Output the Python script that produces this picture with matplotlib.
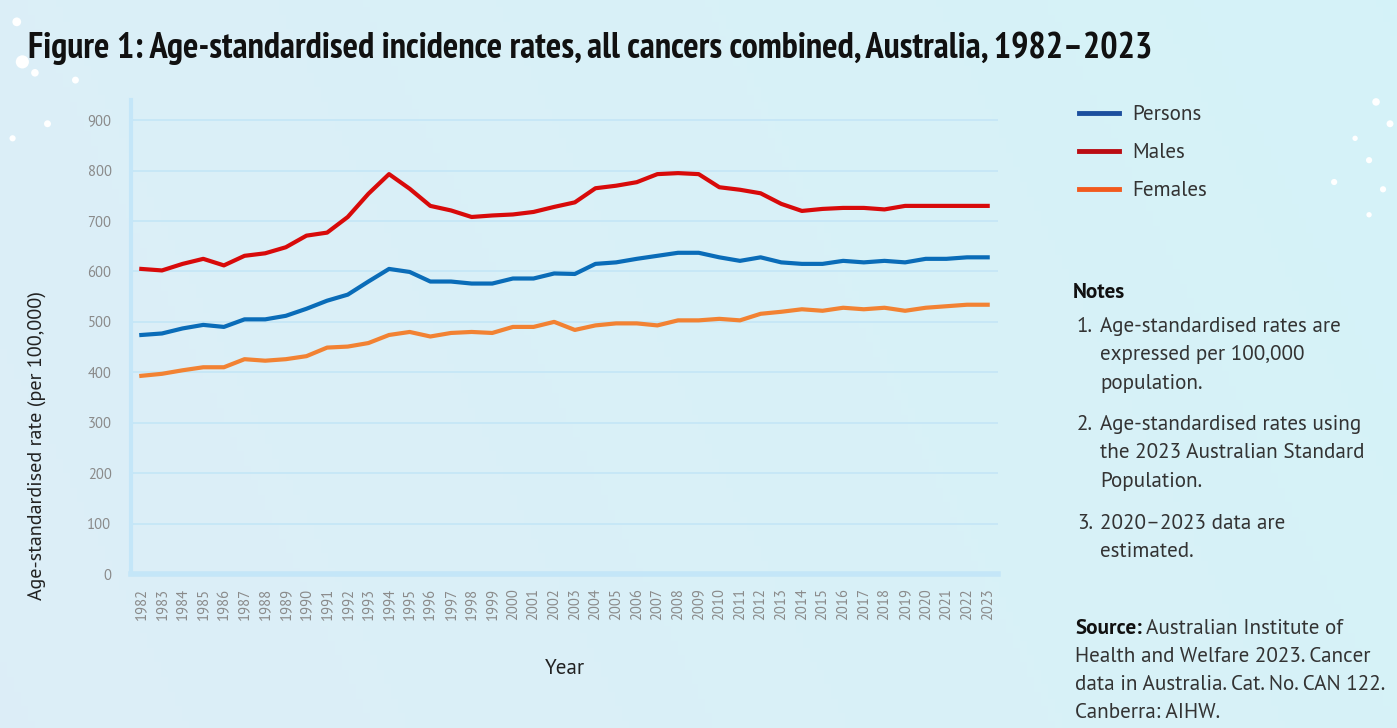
import numpy as np
import matplotlib.pyplot as plt
from matplotlib.lines import Line2D

years = list(range(1982, 2024))

persons = [474, 477, 487, 494, 490, 505, 505, 512, 526, 542,
           554, 580, 605, 599, 580, 580, 576, 576, 586, 586,
           596, 595, 615, 618, 625, 631, 637, 637, 628, 621,
           628, 618, 615, 615, 621, 618, 621, 618, 625, 625,
           628, 628]

males = [605, 602, 615, 625, 612, 631, 636, 648, 671, 677,
         708, 754, 793, 764, 730, 721, 708, 711, 713, 718,
         728, 737, 765, 770, 777, 793, 795, 793, 767, 762,
         755, 734, 720, 724, 726, 726, 723, 730, 730, 730,
         730, 730]

females = [393, 397, 404, 410, 410, 426, 423, 426, 432, 449,
           451, 458, 474, 480, 471, 478, 480, 478, 490, 490,
           500, 484, 493, 497, 497, 493, 503, 503, 506, 503,
           516, 520, 525, 522, 528, 525, 528, 522, 528, 531,
           534, 534]

yticks = [0, 100, 200, 300, 400, 500, 600, 700, 800, 900]

series_names = ["Persons", "Males", "Females"]
line_colors = ["#0a6cb8", "#d80a0a", "#f28233"]
legend_colors = ["#1c4f9e", "#bb0c12", "#f25a1e"]

notes = [
    ("1.", "Age-standardised rates are\nexpressed per 100,000\npopulation."),
    ("2.", "Age-standardised rates using\nthe 2023 Australian Standard\nPopulation."),
    ("3.", "2020\u20132023 data are\nestimated."),
]

body_font = ["PT Sans", "Lato", "DejaVu Sans"]
title_font = ["PT Sans Narrow", "Fira Sans Condensed", "Asap Condensed", "DejaVu Sans"]
plt.rcParams['font.family'] = body_font

W, H = 1397, 728
fig = plt.figure(figsize=(W / 100, H / 100), dpi=100)


def fit_size(txt, target, vertical=False):
    # scale the font so the text is as long as in the reference
    fig.canvas.draw()
    ext = txt.get_window_extent()
    size = ext.height if vertical else ext.width
    txt.set_fontsize(txt.get_fontsize() * target / size)
    return txt.get_fontsize()


# background gradient
bg = fig.add_axes([0, 0, 1, 1], zorder=-10)
gx = np.linspace(0, 1, 200)
gy = np.linspace(0, 1, 100)
GX, GY = np.meshgrid(gx, gy)
c1 = np.array([0.866, 0.933, 0.969])
c2 = np.array([0.835, 0.953, 0.973])
t = np.clip(GX * 0.8 + GY * 0.2, 0, 1)[..., None]
img = c1 * (1 - t) + c2 * t
bg.imshow(img, extent=[0, 1, 0, 1], aspect='auto', origin='lower')
dots_x = [0.012, 0.016, 0.025, 0.034, 0.054, 0.009, 0.985, 0.98, 0.97, 0.99, 0.955, 0.98, 0.995]
dots_y = [0.97, 0.915, 0.9, 0.83, 0.89, 0.81, 0.86, 0.78, 0.81, 0.74, 0.75, 0.705, 0.83]
dots_s = [40, 90, 30, 25, 25, 20, 30, 20, 15, 20, 20, 15, 25]
bg.scatter(dots_x, dots_y, s=dots_s, color="white", edgecolor="none")
bg.set_xlim(0, 1)
bg.set_ylim(0, 1)
bg.axis("off")

ax = fig.add_axes([131 / W, 1 - 574 / H, (998 - 131) / W, (574 - 100) / H])
ax.patch.set_alpha(0)

for vals, name, col in zip([persons, males, females], series_names, line_colors):
    ax.plot(years, vals, color=col, lw=3, label=name, solid_joinstyle="round", zorder=3)

ax.set_xlim(1981.5, 2023.5)
ax.set_ylim(0, 940)
ax.set_yticks(yticks)
ax.set_xticks(years)
ax.set_xticklabels([str(y) for y in years], rotation=90)
ax.tick_params(axis="both", length=0, colors="#8a8a8a", labelsize=10.5)
ax.tick_params(axis="y", pad=14)
ax.tick_params(axis="x", pad=10)
ax.grid(axis="y", color="#c4e6f6", lw=1.2)
ax.set_axisbelow(True)
for s in ["top", "right"]:
    ax.spines[s].set_visible(False)
ax.spines["left"].set_color("#c4e6f8")
ax.spines["left"].set_linewidth(3)
ax.spines["bottom"].set_color("#c4e6f8")
ax.spines["bottom"].set_linewidth(4)

ylab = fig.text(37 / W, 1 - 445 / H, "Age-standardised rate (per 100,000)", rotation=90,
                ha="center", va="center", fontsize=15, color="#222222")
fit_size(ylab, 310, vertical=True)
xlab = fig.text(565 / W, 1 - 668 / H, "Year", ha="center", va="center", fontsize=15, color="#222222")

title = fig.text(28 / W, 1 - 48 / H,
                 "Figure 1: Age-standardised incidence rates, all cancers combined, Australia, 1982\u20132023",
                 ha="left", va="center", fontsize=26, fontweight="bold",
                 family=title_font, color="#111111")
fit_size(title, 1125)

# notes and source, sized from the widest source line
probe = fig.text(1075 / W, 1 - 682 / H, "data in Australia. Cat. No. CAN 122.", fontsize=15, va="center")
fs = fit_size(probe, 311)
probe.remove()
xlab.set_fontsize(fs)

# legend
handles = [Line2D([], [], color=c, lw=3.5) for c in legend_colors]
fs_px = fs * 100 / 72
fig.legend(handles, series_names, loc="upper left", bbox_to_anchor=(1060 / W, 1 - 86 / H),
           frameon=False, fontsize=fs, handlelength=40 / fs_px, handletextpad=13 / fs_px,
           labelspacing=(38 - 0.9 * fs_px) / fs_px, labelcolor="#333333")

fig.text(1073 / W, 1 - 292 / H, "Notes", fontsize=fs, fontweight="bold", va="center", color="#111111")
note_y = [317, 415, 514]
for (num, txt), y0 in zip(notes, note_y):
    fig.text(1077 / W, 1 - y0 / H, num, fontsize=fs, va="top", color="#333333")
    fig.text(1100 / W, 1 - y0 / H, txt, fontsize=fs, va="top", color="#333333",
             linespacing=1.62)

src = fig.text(1075 / W, 1 - 619 / H, "Source:", fontsize=fs, fontweight="bold",
               va="top", color="#111111")
fig.canvas.draw()
bb = src.get_window_extent()
fig.text(bb.x1 / W + 4 / W, 1 - 619 / H, "Australian Institute of", fontsize=fs,
         va="top", color="#333333")
fig.text(1075 / W, 1 - 647 / H,
         "Health and Welfare 2023. Cancer\ndata in Australia. Cat. No. CAN 122.\nCanberra: AIHW.",
         fontsize=fs, va="top", color="#333333", linespacing=1.6)

fig.savefig("out.png", dpi=100)
